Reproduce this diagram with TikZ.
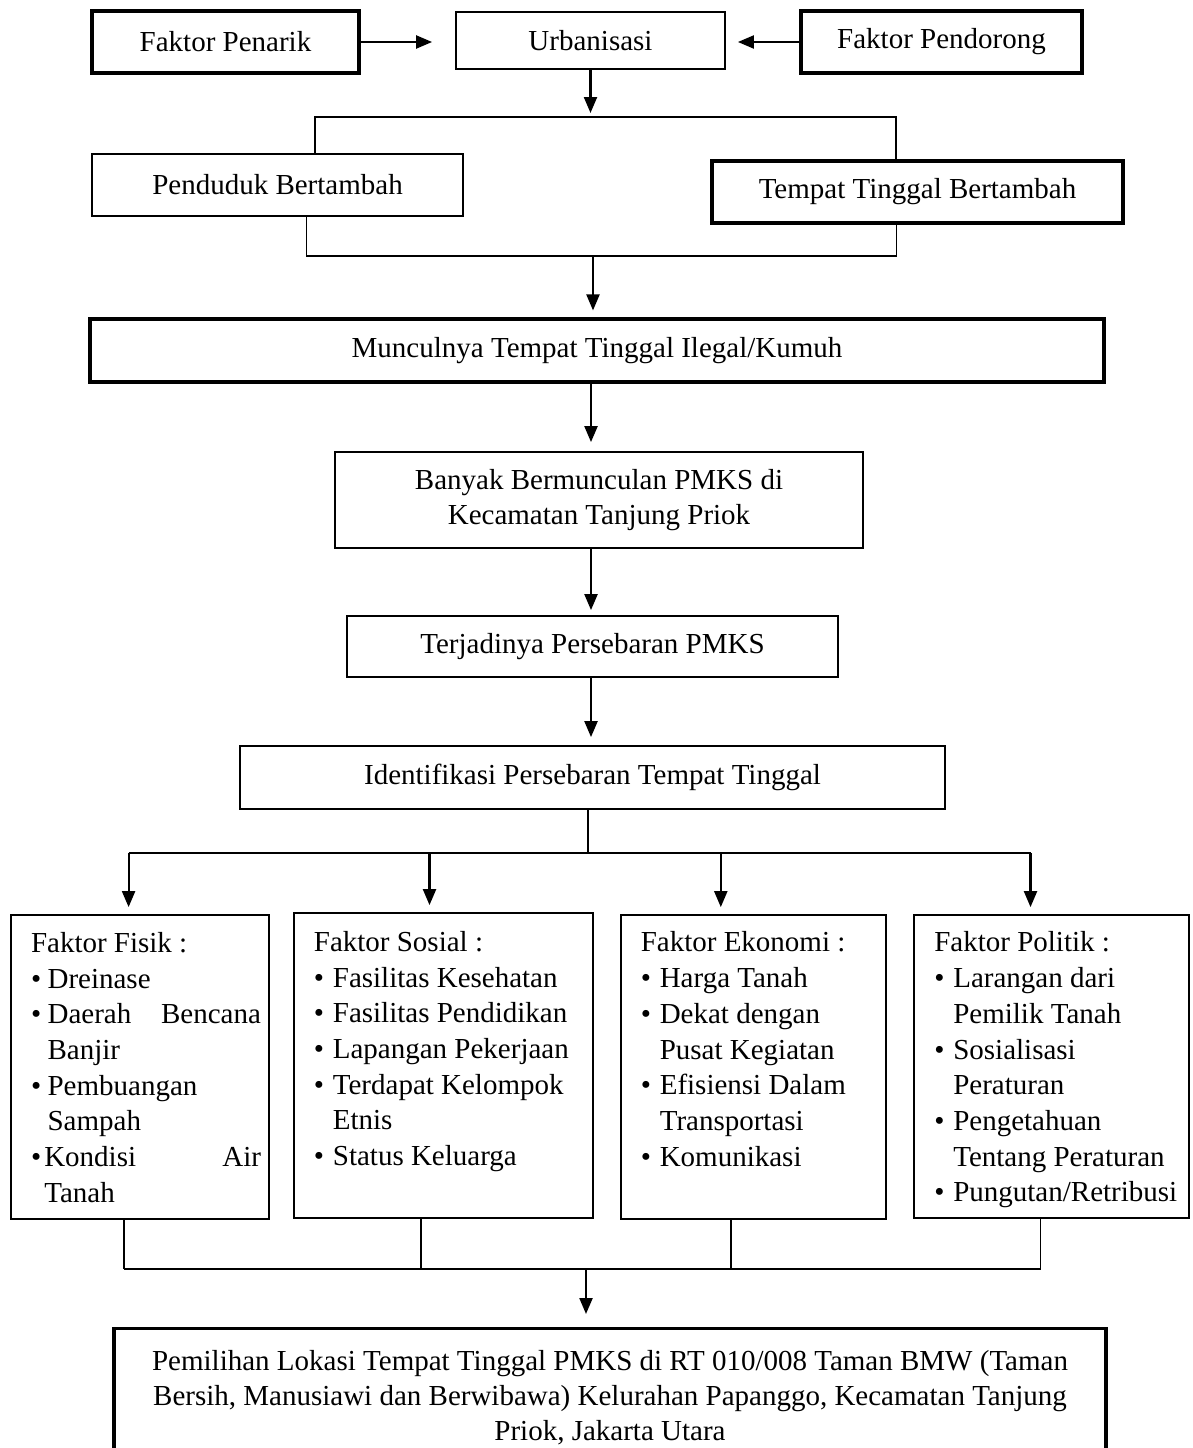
\documentclass[tikz,border=0pt]{standalone}
\usepackage{fontspec}
\setmainfont{Liberation Serif}
\usetikzlibrary{arrows.meta,positioning}

\newcommand{\bulitem}[1][19pt]{\makebox[#1][l]{\textbullet}}
\newcommand{\bulcont}[1][19pt]{\hspace*{#1}}

\begin{document}
\begin{tikzpicture}[
        x=1pt,
        y=-1pt,
        font=\fontsize{29pt}{35.7pt}\selectfont,
        box/.style={draw, line width=1.8pt, inner sep=0pt, align=center},
        boldbox/.style={box, line width=3.2pt},
        arr/.style={-{Triangle[length=16pt,width=13pt]}, line width=2.2pt},
        link/.style={line width=1.8pt},
        factxt/.style={anchor=north west, inner sep=0pt, align=flush left, text width=#1}
    ]
        \useasboundingbox (0,0) rectangle (1192,1448);

        \node[boldbox, minimum width=267pt, minimum height=62pt] (penarik) at (225.5,42) {Faktor Penarik};
        \node[box, minimum width=269pt, minimum height=57pt] (urban) at (590.5,40.5) {Urbanisasi};
        \node[boldbox, minimum width=281pt, minimum height=62pt] (pendorong) at (941.5,42) {Faktor Pendorong};

        \node[box, minimum width=371pt, minimum height=62pt] (penduduk) at (277.5,185) {Penduduk Bertambah};
        \node[boldbox, minimum width=411pt, minimum height=62pt] (tempat) at (917.5,192) {Tempat Tinggal Bertambah};

        \node[boldbox, minimum width=1014pt, minimum height=63pt] (kumuh) at (597,350.5) {Munculnya Tempat Tinggal Ilegal/Kumuh};
        \node[box, minimum width=528pt, minimum height=96pt] (pmks) at (599,500) {Banyak Bermunculan PMKS di\\Kecamatan Tanjung Priok};
        \node[box, minimum width=491pt, minimum height=61pt] (sebaran) at (592.5,646.5) {Terjadinya Persebaran PMKS};
        \node[box, minimum width=705pt, minimum height=63pt] (identif) at (592.5,777.5) {Identifikasi Persebaran Tempat Tinggal};

        \node[box, minimum width=258pt, minimum height=304pt] (fisik) at (140,1067) {};
        \node[box, minimum width=299pt, minimum height=305pt] (sosial) at (443.5,1065.5) {};
        \node[box, minimum width=265pt, minimum height=304pt] (ekonomi) at (753.5,1067) {};
        \node[box, minimum width=275pt, minimum height=303pt] (politik) at (1051.5,1066.5) {};

        \node[factxt=230pt] (fisiktxt) at ([xshift=20.7pt,yshift=-18pt]fisik.north west) {Faktor Fisik :\\
            \bulitem[16.6pt]Dreinase\\
            \bulitem[16.6pt]Daerah\hfill Bencana\\
            \bulcont[16.6pt]Banjir\\
            \bulitem[16.6pt]Pembuangan\\
            \bulcont[16.6pt]Sampah\\
            \bulitem[13.3pt]Kondisi\hfill Air\\
            \bulcont[13.3pt]Tanah};
        \node[factxt=270pt] (sosialtxt) at ([xshift=20.6pt,yshift=-19pt]sosial.north west) {Faktor Sosial :\\
            \bulitem Fasilitas Kesehatan\\
            \bulitem Fasilitas Pendidikan\\
            \bulitem Lapangan Pekerjaan\\
            \bulitem Terdapat Kelompok\\
            \bulcont Etnis\\
            \bulitem Status Keluarga};
        \node[factxt=240pt] (ekonomitxt) at ([xshift=20.5pt,yshift=-17.5pt]ekonomi.north west) {Faktor Ekonomi :\\
            \bulitem Harga Tanah\\
            \bulitem Dekat dengan\\
            \bulcont Pusat Kegiatan\\
            \bulitem Efisiensi Dalam\\
            \bulcont Transportasi\\
            \bulitem Komunikasi};
        \node[factxt=255pt] (politiktxt) at ([xshift=21pt,yshift=-17.5pt]politik.north west) {Faktor Politik :\\
            \bulitem Larangan dari\\
            \bulcont Pemilik Tanah\\
            \bulitem Sosialisasi\\
            \bulcont Peraturan\\
            \bulitem Pengetahuan\\
            \bulcont Tentang Peraturan\\
            \bulitem Pungutan/Retribusi};

        \node[boldbox, anchor=north, minimum width=992pt, minimum height=139pt,
            font=\fontsize{29pt}{35pt}\selectfont] (lokasi) at (610,1327) {Pemilihan Lokasi Tempat Tinggal PMKS di RT 010/008 Taman BMW (Taman\\Bersih, Manusiawi dan Berwibawa) Kelurahan Papanggo, Kecamatan Tanjung\\Priok, Jakarta Utara};

        \coordinate (spine) at (591,0);
        \coordinate (top1) at (592,117);
        \coordinate (bot1) at (593,256);
        \coordinate (split2) at (588,853);
        \coordinate (join) at (586,1269);

        \draw[arr, shorten >=23pt] (penarik.east) -- (penarik.east -| urban.west);
        \draw[arr, shorten >=12pt] (pendorong.west) -- (pendorong.west -| urban.east);
        \draw[arr, shorten >=4pt] (urban.south) -- (urban.south |- top1);

        \draw[link] ([xshift=37.5pt]penduduk.north) |- (top1) -| ([xshift=-21.5pt]tempat.north);
        \draw[link] ([xshift=29pt]penduduk.south) |- (bot1) -| ([xshift=-21pt]tempat.south);
        \draw[arr, shorten >=7pt] (bot1) -- (bot1 |- kumuh.north);

        \draw[arr, shorten >=9pt] (kumuh.south -| spine) -- (pmks.north -| spine);
        \draw[arr, shorten >=5pt] (pmks.south -| spine) -- (sebaran.north -| spine);
        \draw[arr, shorten >=8pt] (sebaran.south -| spine) -- (identif.north -| spine);

        \draw[link] (identif.south -| split2) -- (split2);
        \coordinate (fisikin) at ([xshift=-11.4pt]fisik.north);
        \coordinate (sosialin) at ([xshift=-14pt]sosial.north);
        \coordinate (ekonomiin) at ([xshift=-32.7pt]ekonomi.north);
        \coordinate (politikin) at ([xshift=-21pt]politik.north);
        \draw[link] (fisikin |- split2) -- (politikin |- split2);
        \foreach \n in {fisikin,sosialin,ekonomiin,politikin} {
            \draw[arr, shorten >=7pt] (\n |- split2) -- (\n);
        }

        \coordinate (fisikout) at ([xshift=-16.4pt]fisik.south);
        \coordinate (sosialout) at ([xshift=-22.5pt]sosial.south);
        \coordinate (ekonomiout) at ([xshift=-22.5pt]ekonomi.south);
        \coordinate (politikout) at ([xshift=-11pt]politik.south);
        \foreach \n in {fisikout,sosialout,ekonomiout,politikout} {
            \draw[link] (\n) -- (\n |- join);
        }
        \draw[link] (fisikout |- join) -- (politikout |- join);
        \draw[arr, shorten >=13pt] (join) -- (join |- lokasi.north);
    \end{tikzpicture}
\end{document}
